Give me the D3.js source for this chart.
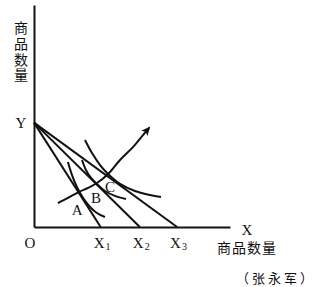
<!DOCTYPE html>
<html>
<head>
<meta charset="utf-8">
<script src="https://cdn.jsdelivr.net/npm/d3@7"></script>
<style>
  body { margin: 0; background: #fff; }
  svg { display: block; }
</style>
</head>
<body>
<div id="area_chart"></div>
<script>
// budget lines: all start at Y on the vertical axis, end at X1, X2, X3
const yIntercept = 47;
const xIntercepts = [34, 54, 73];
const xInterceptLabels = ["1", "2", "3"];

// indifference curves
const curveA = [[17.3, 29.3], [19.4, 23.4], [21.9, 18], [25, 13.1], [28.6, 9], [32.1, 6.3], [36.2, 4.5]];
const curveB = [[24.5, 30.2], [26.5, 25.7], [29.1, 22.1], [32.1, 19.4], [36.2, 16.2], [41.3, 14], [46.9, 12.6]];
const curveC = [[26, 39.2], [29.6, 33.3], [33.7, 27.9], [37.8, 23.9], [43.9, 19.4], [51.5, 16.2], [59.2, 14.4], [64.8, 13.5]];

// price-consumption curve
const pcc = [[12.2, 10.8], [17.3, 13.1], [23, 15.8], [27.6, 17.6], [32.1, 19.8], [37.8, 23.9], [43.9, 30.2], [50.5, 36], [55.6, 41.4], [58.7, 44.6]];

// tangency points
const pointNames = ["A", "B", "C"];
const pointValues = [[23, 15.8], [32.1, 19.4], [37.8, 23.9]];

const axisTitle = "商品数量";
const credit = "（张永军）";

function drawChart() {
    let dimensions = {
        width: 316,
        height: 287,
        margin: { top: 5, left: 34, right: 86, bottom: 60 }
    };
    dimensions.boundedWidth = dimensions.width - dimensions.margin.left - dimensions.margin.right;
    dimensions.boundedHeight = dimensions.height - dimensions.margin.top - dimensions.margin.bottom;

    const svg = d3.select("#area_chart").append("svg")
        .attr("width", dimensions.width)
        .attr("height", dimensions.height);

    svg.append("defs").append("marker")
        .attr("id", "arrow")
        .attr("markerUnits", "userSpaceOnUse")
        .attr("viewBox", "0 -5 10 10")
        .attr("refX", 8)
        .attr("refY", 0)
        .attr("markerWidth", 9)
        .attr("markerHeight", 9)
        .attr("orient", "auto")
        .append("path")
        .attr("d", "M0,-4.5L10,0L0,4.5L2.5,0Z")
        .attr("fill", "#111");

    const bounded = svg.append("g")
        .attr("transform", `translate(${dimensions.margin.left},${dimensions.margin.top})`);

    const xScale = d3.scaleLinear().domain([0, 100]).range([0, dimensions.boundedWidth]);
    const yScale = d3.scaleLinear().domain([0, 100]).range([dimensions.boundedHeight, 0]);

    const serif = "'Liberation Serif', 'DejaVu Serif', serif";
    const cjk = "'Noto Sans CJK SC', sans-serif";

    // axes: just the lines
    const xAxis = d3.axisBottom(xScale).tickValues([]).tickSizeOuter(0);
    const yAxis = d3.axisLeft(yScale).tickValues([]).tickSizeOuter(0);

    bounded.append("g")
        .attr("transform", `translate(0,${dimensions.boundedHeight})`)
        .call(xAxis)
        .select(".domain").attr("stroke", "#111").attr("stroke-width", 2);
    bounded.append("g")
        .call(yAxis)
        .select(".domain").attr("stroke", "#111").attr("stroke-width", 2);

    // budget lines
    bounded.selectAll(".budget")
        .data(xIntercepts)
        .join("line")
        .attr("class", "budget")
        .attr("x1", xScale(0))
        .attr("y1", yScale(yIntercept))
        .attr("x2", d => xScale(d))
        .attr("y2", yScale(0))
        .attr("stroke", "#111")
        .attr("stroke-width", 2);

    const lineGenerator = d3.line()
        .x(d => xScale(d[0]))
        .y(d => yScale(d[1]))
        .curve(d3.curveCatmullRom);

    bounded.selectAll(".indiff")
        .data([curveA, curveB, curveC])
        .join("path")
        .attr("class", "indiff")
        .attr("d", lineGenerator)
        .attr("fill", "none")
        .attr("stroke", "#111")
        .attr("stroke-width", 2);

    bounded.append("path")
        .attr("d", lineGenerator(pcc))
        .attr("fill", "none")
        .attr("stroke", "#111")
        .attr("stroke-width", 2)
        .attr("marker-end", "url(#arrow)");

    // point labels, set just below each tangency point
    const labelOffsets = [[-2, 23], [-1, 19], [2, 18]];
    bounded.selectAll(".pt")
        .data(pointNames)
        .join("text")
        .attr("class", "pt")
        .attr("x", (d, i) => xScale(pointValues[i][0]) + labelOffsets[i][0])
        .attr("y", (d, i) => yScale(pointValues[i][1]) + labelOffsets[i][1])
        .attr("text-anchor", "middle")
        .attr("font-family", serif)
        .attr("font-size", 15)
        .attr("fill", "#111")
        .text(d => d);

    // Y and O
    bounded.append("text")
        .attr("x", xScale(0) - 13)
        .attr("y", yScale(yIntercept) + 5)
        .attr("text-anchor", "middle")
        .attr("font-family", serif)
        .attr("font-size", 15)
        .attr("fill", "#111")
        .text("Y");
    bounded.append("text")
        .attr("x", xScale(0) - 4)
        .attr("y", yScale(0) + 21)
        .attr("text-anchor", "middle")
        .attr("font-family", serif)
        .attr("font-size", 15)
        .attr("fill", "#111")
        .text("O");

    // X1, X2, X3
    const xLabels = bounded.selectAll(".xl")
        .data(xIntercepts)
        .join("text")
        .attr("class", "xl")
        .attr("x", d => xScale(d) - 7)
        .attr("y", yScale(0) + 21)
        .attr("font-family", serif)
        .attr("font-size", 15)
        .attr("fill", "#111");
    xLabels.append("tspan").text("X");
    xLabels.append("tspan")
        .attr("dx", 1)
        .attr("dy", 2)
        .attr("font-size", 10)
        .text((d, i) => xInterceptLabels[i]);

    // X at axis end
    bounded.append("text")
        .attr("x", xScale(100) + 17)
        .attr("y", yScale(0) + 8)
        .attr("text-anchor", "middle")
        .attr("font-family", serif)
        .attr("font-size", 15)
        .attr("fill", "#111")
        .text("X");

    bounded.append("text")
        .attr("x", xScale(100) + 17)
        .attr("y", yScale(0) + 26)
        .attr("text-anchor", "middle")
        .attr("font-family", cjk)
        .attr("font-size", 14)
        .attr("letter-spacing", 1)
        .attr("fill", "#111")
        .text(axisTitle);

    // vertical title on the y axis, one text written top to bottom
    svg.append("text")
        .attr("x", 21)
        .attr("y", 21)
        .attr("writing-mode", "tb")
        .attr("font-family", cjk)
        .attr("font-size", 14)
        .attr("letter-spacing", 1.7)
        .attr("fill", "#111")
        .text(axisTitle);

    svg.append("text")
        .attr("x", 276)
        .attr("y", 283)
        .attr("text-anchor", "middle")
        .attr("font-family", cjk)
        .attr("font-size", 13)
        .attr("letter-spacing", 3)
        .attr("fill", "#111")
        .text(credit);
}

drawChart();
</script>
</body>
</html>
